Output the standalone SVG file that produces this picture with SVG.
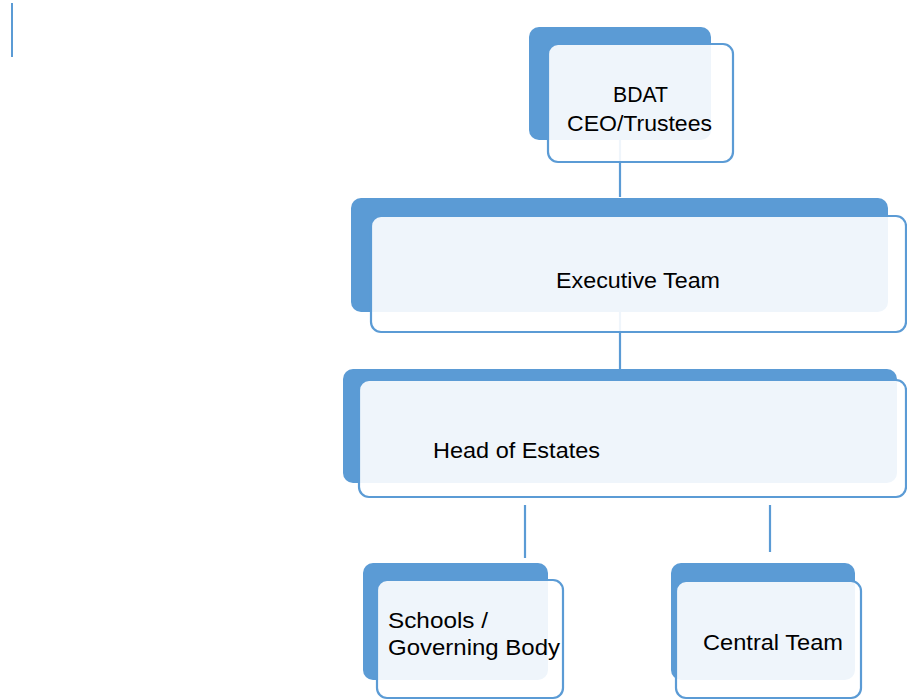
<svg xmlns="http://www.w3.org/2000/svg" width="907" height="700" viewBox="0 0 907 700">
<style>
.back{fill:#5B9BD5}
.front{fill:#fff;fill-opacity:0.9;stroke:#5B9BD5;stroke-width:2.2}
.conn{stroke:#5B9BD5;stroke-width:2.2;fill:none}
text{font-family:"Liberation Sans",Arial,sans-serif;font-size:22px;fill:#000}
</style>
<rect width="907" height="700" fill="#fff"/>
<line x1="12" y1="3" x2="12" y2="57" stroke="#5B9BD5" stroke-width="2"/>
<g id="connectors">
<line class="conn" x1="620" y1="140" x2="620" y2="197"/>
<line class="conn" x1="620" y1="312" x2="620" y2="369"/>
<line class="conn" x1="525" y1="505" x2="525" y2="558"/>
<line class="conn" x1="770" y1="505" x2="770" y2="552"/>
</g>
<g id="bdat">
<rect class="back" x="529" y="27" width="182" height="113" rx="10"/>
<rect class="front" x="548" y="44" width="185" height="118" rx="10"/>
<text x="613" y="102" textLength="55" lengthAdjust="spacingAndGlyphs">BDAT</text>
<text x="567" y="131" textLength="145" lengthAdjust="spacingAndGlyphs">CEO/Trustees</text>
</g>
<g id="executive">
<rect class="back" x="351" y="198" width="537" height="114" rx="10"/>
<rect class="front" x="371" y="216" width="535" height="116" rx="10"/>
<text x="556" y="288" textLength="164" lengthAdjust="spacingAndGlyphs">Executive Team</text>
</g>
<g id="head">
<rect class="back" x="343" y="369" width="554" height="114" rx="10"/>
<rect class="front" x="359" y="380" width="547" height="117" rx="10"/>
<text x="433" y="458" textLength="167" lengthAdjust="spacingAndGlyphs">Head of Estates</text>
</g>
<g id="schools">
<rect class="back" x="363" y="563" width="185" height="117" rx="10"/>
<rect class="front" x="377" y="580" width="186" height="118" rx="10"/>
<text x="388" y="628" textLength="100" lengthAdjust="spacingAndGlyphs">Schools /</text>
<text x="388" y="655" textLength="172" lengthAdjust="spacingAndGlyphs">Governing Body</text>
</g>
<g id="central">
<rect class="back" x="671" y="563" width="184" height="117" rx="10"/>
<rect class="front" x="676" y="581" width="185" height="117" rx="10"/>
<text x="703" y="650" textLength="140" lengthAdjust="spacingAndGlyphs">Central Team</text>
</g>
</svg>
